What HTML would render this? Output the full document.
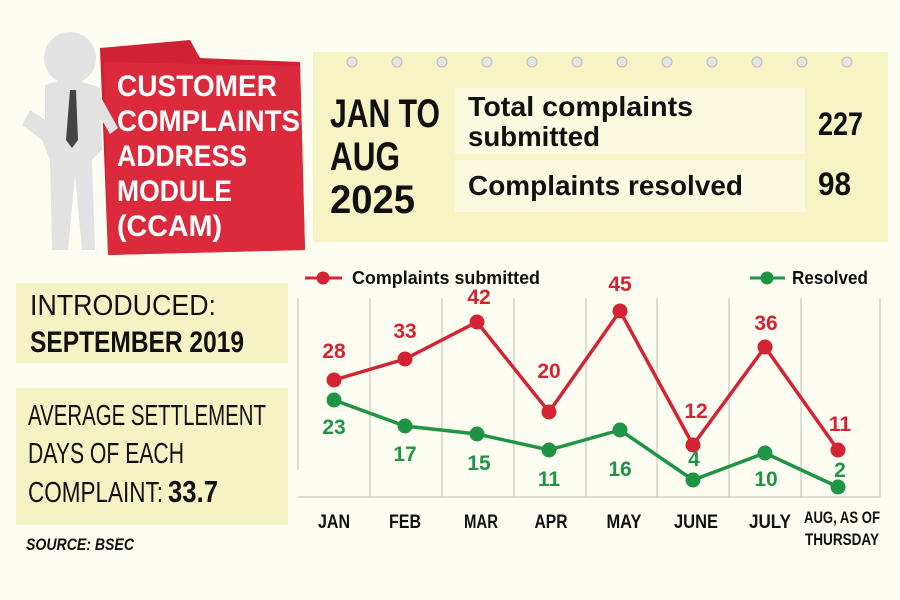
<!DOCTYPE html>
<html><head><meta charset="utf-8"><style>
html,body{margin:0;padding:0;background:#fdfdf2;}
svg{display:block;}
text{font-family:"Liberation Sans",sans-serif;}
</style></head><body>
<svg width="900" height="600" viewBox="0 0 900 600" xmlns="http://www.w3.org/2000/svg">
<rect width="900" height="600" fill="#fdfdf2"/>
<rect x="313" y="52" width="575" height="190" fill="#f6f3c4"/>
<g fill="#e6e6e0" stroke="#bbb" stroke-width="1">
<circle cx="352" cy="62" r="5"/><circle cx="397" cy="62" r="5"/><circle cx="442" cy="62" r="5"/><circle cx="487" cy="62" r="5"/><circle cx="532" cy="62" r="5"/><circle cx="577" cy="62" r="5"/><circle cx="622" cy="62" r="5"/><circle cx="667" cy="62" r="5"/><circle cx="712" cy="62" r="5"/><circle cx="757" cy="62" r="5"/><circle cx="802" cy="62" r="5"/><circle cx="847" cy="62" r="5"/>
</g>
<rect x="455" y="88" width="350" height="66" fill="#fbfae0"/>
<rect x="455" y="160" width="350" height="52" fill="#fbfae0"/>
<g font-weight="bold" fill="#111">
<text x="330" y="127" font-size="40" textLength="110" lengthAdjust="spacingAndGlyphs">JAN TO</text>
<text x="330" y="170" font-size="40" textLength="70" lengthAdjust="spacingAndGlyphs">AUG</text>
<text x="330" y="213" font-size="40" textLength="85" lengthAdjust="spacingAndGlyphs">2025</text>
<text x="468" y="116" font-size="28" textLength="225" lengthAdjust="spacingAndGlyphs">Total complaints</text>
<text x="468" y="146" font-size="28" textLength="132" lengthAdjust="spacingAndGlyphs">submitted</text>
<text x="468" y="195" font-size="28" textLength="275" lengthAdjust="spacingAndGlyphs">Complaints resolved</text>
<text x="818" y="135" font-size="32" textLength="45" lengthAdjust="spacingAndGlyphs">227</text>
<text x="818" y="195" font-size="32" textLength="33" lengthAdjust="spacingAndGlyphs">98</text>
</g>
<path d="M100 48 L190 40 L200 58 L300 62 L305 250 L108 255 Z" fill="#cf2235"/>
<path d="M104 62 L300 66 L305 250 L108 255 Z" fill="#dc2a3d"/>
<g font-size="30" font-weight="bold" fill="#fff">
<text x="117" y="96" textLength="160" lengthAdjust="spacingAndGlyphs">CUSTOMER</text>
<text x="117" y="131" textLength="183" lengthAdjust="spacingAndGlyphs">COMPLAINTS</text>
<text x="117" y="166" textLength="130" lengthAdjust="spacingAndGlyphs">ADDRESS</text>
<text x="117" y="201" textLength="115" lengthAdjust="spacingAndGlyphs">MODULE</text>
<text x="117" y="236" textLength="105" lengthAdjust="spacingAndGlyphs">(CCAM)</text>
</g>
<g fill="#e2e2e2">
<circle cx="70" cy="58" r="26"/>
<path d="M45 85 Q70 75 100 88 L102 150 L92 160 L95 250 L82 250 L75 175 L68 250 L52 250 L50 160 L42 140 L22 125 L30 110 L45 120 Z"/>
<path d="M98 92 L118 128 L110 134 L96 110 Z"/>
</g>
<path d="M70 90 L76 90 L78 140 L72 148 L66 140 Z" fill="#444"/>
<rect x="16" y="283" width="272" height="80" fill="#f5f2c3"/>
<text x="30" y="315" font-size="29" fill="#111" textLength="186" lengthAdjust="spacingAndGlyphs">INTRODUCED:</text>
<text x="30" y="352" font-size="30" font-weight="bold" fill="#111" textLength="214" lengthAdjust="spacingAndGlyphs">SEPTEMBER 2019</text>
<rect x="16" y="388" width="272" height="137" fill="#f5f2c3"/>
<text x="28" y="425" font-size="29" fill="#111" textLength="238" lengthAdjust="spacingAndGlyphs">AVERAGE SETTLEMENT</text>
<text x="28" y="463" font-size="29" fill="#111" textLength="156" lengthAdjust="spacingAndGlyphs">DAYS OF EACH</text>
<text x="28" y="502" font-size="29" fill="#111" textLength="135" lengthAdjust="spacingAndGlyphs">COMPLAINT:</text>
<text x="168" y="502" font-size="31" font-weight="bold" fill="#111" textLength="50" lengthAdjust="spacingAndGlyphs">33.7</text>
<text x="26" y="550" font-size="17" font-weight="bold" font-style="italic" fill="#111" textLength="108" lengthAdjust="spacingAndGlyphs">SOURCE: BSEC</text>
<g stroke="#c8c8c0" stroke-width="1.2">
<line x1="298" y1="298" x2="298" y2="470"/>
<line x1="370" y1="298" x2="370" y2="497"/>
<line x1="442" y1="298" x2="442" y2="497"/>
<line x1="514" y1="298" x2="514" y2="497"/>
<line x1="586" y1="298" x2="586" y2="497"/>
<line x1="657" y1="298" x2="657" y2="497"/>
<line x1="729" y1="298" x2="729" y2="497"/>
<line x1="801" y1="298" x2="801" y2="497"/>
<line x1="880" y1="298" x2="880" y2="497"/>
<line x1="298" y1="497" x2="880" y2="497"/>
</g>
<line x1="305" y1="278" x2="342" y2="278" stroke="#d42434" stroke-width="3"/>
<circle cx="323" cy="278" r="6.5" fill="#d42434"/>
<text x="352" y="284" font-size="18" font-weight="bold" fill="#111" textLength="188" lengthAdjust="spacingAndGlyphs">Complaints submitted</text>
<line x1="750" y1="278" x2="785" y2="278" stroke="#1f9444" stroke-width="3"/>
<circle cx="767" cy="278" r="6.5" fill="#1f9444"/>
<text x="792" y="284" font-size="18" font-weight="bold" fill="#111" textLength="76" lengthAdjust="spacingAndGlyphs">Resolved</text>
<polyline points="334,400 405,426 477,434 549,450 620,430 693,480 765,453 838,487" fill="none" stroke="#1f9444" stroke-width="3.5"/>
<g fill="#1f9444"><circle cx="334" cy="400" r="7.5"/><circle cx="405" cy="426" r="7.5"/><circle cx="477" cy="434" r="7.5"/><circle cx="549" cy="450" r="7.5"/><circle cx="620" cy="430" r="7.5"/><circle cx="693" cy="480" r="7.5"/><circle cx="765" cy="453" r="7.5"/><circle cx="838" cy="487" r="7.5"/></g>
<polyline points="334,380 405,359 477,322 549,412 620,311 693,445 765,347 838,450" fill="none" stroke="#d42434" stroke-width="3.5"/>
<g fill="#d42434"><circle cx="334" cy="380" r="7.5"/><circle cx="405" cy="359" r="7.5"/><circle cx="477" cy="322" r="7.5"/><circle cx="549" cy="412" r="7.5"/><circle cx="620" cy="311" r="7.5"/><circle cx="693" cy="445" r="7.5"/><circle cx="765" cy="347" r="7.5"/><circle cx="838" cy="450" r="7.5"/></g>
<g font-size="21" font-weight="bold" fill="#d42434" text-anchor="middle">
<text x="334" y="358">28</text><text x="405" y="338">33</text><text x="479" y="304">42</text><text x="549" y="378">20</text><text x="620" y="291">45</text><text x="696" y="418">12</text><text x="766" y="330">36</text><text x="840" y="431">11</text>
</g>
<g font-size="21" font-weight="bold" fill="#1f9444" text-anchor="middle">
<text x="334" y="434">23</text><text x="405" y="461">17</text><text x="479" y="470">15</text><text x="549" y="486">11</text><text x="620" y="476">16</text><text x="694" y="466">4</text><text x="766" y="486">10</text><text x="840" y="477">2</text>
</g>
<g font-size="19" font-weight="bold" fill="#111" text-anchor="middle">
<text x="334" y="528" textLength="32" lengthAdjust="spacingAndGlyphs">JAN</text>
<text x="405" y="528" textLength="32" lengthAdjust="spacingAndGlyphs">FEB</text>
<text x="481" y="528" textLength="34" lengthAdjust="spacingAndGlyphs">MAR</text>
<text x="551" y="528" textLength="33" lengthAdjust="spacingAndGlyphs">APR</text>
<text x="624" y="528" textLength="35" lengthAdjust="spacingAndGlyphs">MAY</text>
<text x="696" y="528" textLength="44" lengthAdjust="spacingAndGlyphs">JUNE</text>
<text x="770" y="528" textLength="42" lengthAdjust="spacingAndGlyphs">JULY</text>
<text x="842" y="523" font-size="17" textLength="76" lengthAdjust="spacingAndGlyphs">AUG, AS OF</text>
<text x="842" y="545" font-size="17" textLength="74" lengthAdjust="spacingAndGlyphs">THURSDAY</text>
</g>
</svg>
</body></html>
